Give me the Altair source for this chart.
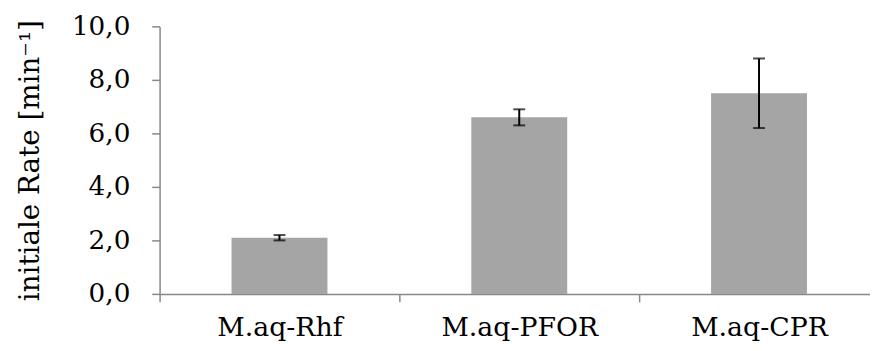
import altair as alt
import pandas as pd

categories = ["M.aq-Rhf", "M.aq-PFOR", "M.aq-CPR"]
rates = [2.1, 6.6, 7.5]
errors = [0.1, 0.3, 1.3]
y_ticks = [0, 2, 4, 6, 8, 10]

df = pd.DataFrame({"cat": categories, "rate": rates, "err": errors})
df["lo"] = df["rate"] - df["err"]
df["hi"] = df["rate"] + df["err"]

FONT = "DejaVu Serif"
AXIS_COLOR = "#888888"
STEP = 242

xscale = alt.Scale(domain=categories, range=[0, 3 * STEP], paddingInner=0.6, paddingOuter=0.3)
yscale = alt.Scale(domain=[0, 10], nice=False, zero=True)

x_enc = alt.X("cat:N", scale=xscale, sort=categories,
              axis=alt.Axis(title=None, labelFont=FONT, labelFontSize=27, labelColor="black",
                            labelAngle=0, domainColor=AXIS_COLOR, tickColor=AXIS_COLOR,
                            tickSize=8, domainWidth=1.5, tickWidth=1.5, grid=False,
                            tickOffset=-STEP / 2, labelOffset=STEP / 2, labelPadding=13))
y_axis = alt.Axis(title="initiale Rate [min⁻¹]", values=y_ticks, grid=False,
                  labelExpr="replace(format(datum.value, '.1f'), '.', ',')",
                  labelFont=FONT, labelFontSize=26.5, labelColor="black", labelPadding=22,
                  titleFont=FONT, titleFontSize=28, titleFontWeight="normal", titleColor="black",
                  titleAngle=270, titleX=-122, titleY=135, titleAlign="center",
                  titleBaseline="alphabetic",
                  domainColor=AXIS_COLOR, tickColor=AXIS_COLOR, tickSize=8,
                  domainWidth=1.5, tickWidth=1.5)

base = alt.Chart(df)
bars = base.mark_bar(color="#a5a5a5").encode(
    x=x_enc,
    y=alt.Y("rate:Q", scale=yscale, axis=y_axis),
)
rule = base.mark_rule(color="black", strokeWidth=2).encode(
    x=alt.X("cat:N", scale=xscale, sort=categories),
    y=alt.Y("lo:Q", scale=yscale),
    y2="hi:Q",
)
cap_lo = base.mark_tick(color="black", thickness=2, size=12, orient="horizontal").encode(
    x=alt.X("cat:N", scale=xscale, sort=categories),
    y=alt.Y("lo:Q", scale=yscale),
)
cap_hi = base.mark_tick(color="black", thickness=2, size=12, orient="horizontal").encode(
    x=alt.X("cat:N", scale=xscale, sort=categories),
    y=alt.Y("hi:Q", scale=yscale),
)

chart = alt.layer(bars, rule, cap_lo, cap_hi).properties(
    width=717, height=270,
    background="white",
    autosize=alt.AutoSizeParams(type="none"),
    padding={"left": 153, "top": 17, "right": 0, "bottom": 48},
).configure_view(stroke=None).configure_axis(grid=False)

chart.save("out.html", embed_options={"renderer": "svg", "actions": False})
